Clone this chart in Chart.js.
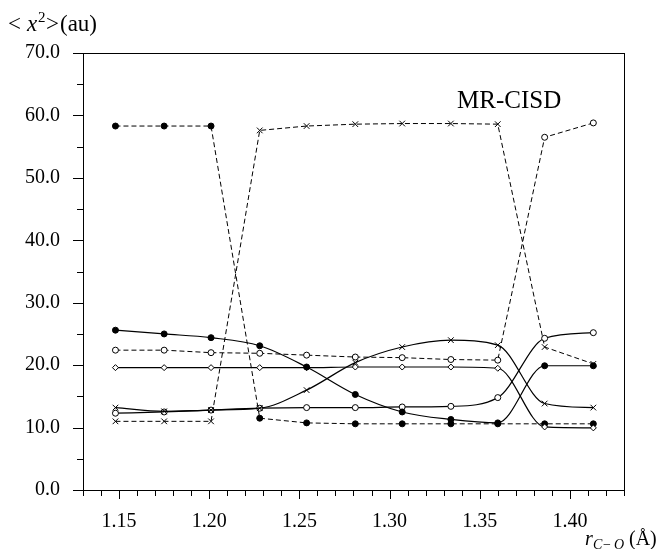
<!DOCTYPE html>
<html>
<head>
<meta charset="utf-8">
<script src="https://cdn.jsdelivr.net/npm/chart.js@4/dist/chart.umd.min.js"></script>
<style>
    html, body { margin: 0; padding: 0; background: #fff; }
</style>
</head>
<body>
<canvas id="graficoX2" width="660" height="549"></canvas>
<script>
// distancias C-O (Å)
const rCO = [1.148, 1.175, 1.201, 1.228, 1.254, 1.281, 1.307, 1.334, 1.360, 1.386, 1.413];

// <x^2> (au) de cada estado
const solidoLleno   = [25.6, 25.0, 24.4, 23.1, 19.7, 15.3, 12.5, 11.3, 10.75, 19.9, 19.9];
const solidoCruz    = [13.2, 12.6, 12.8, 13.1, 16.0, 20.4, 22.9, 24.0, 23.2, 13.85, 13.2];
const solidoAbierto = [12.3, 12.5, 12.8, 13.1, 13.2, 13.2, 13.3, 13.4, 14.8, 24.3, 25.2];
const solidoRombo   = [19.6, 19.6, 19.6, 19.6, 19.6, 19.7, 19.7, 19.7, 19.5, 10.1, 9.95];
const discAbierto   = [22.4, 22.4, 22.0, 21.9, 21.6, 21.3, 21.2, 20.9, 20.8, 56.5, 58.8];
const discCruz      = [11.0, 11.0, 11.0, 57.6, 58.3, 58.6, 58.7, 58.7, 58.6, 22.9, 20.2];
const discLleno     = [58.3, 58.3, 58.3, 11.5, 10.75, 10.6, 10.6, 10.6, 10.6, 10.6, 10.6];

const yTicks = [0, 10, 20, 30, 40, 50, 60, 70];
const xTicks = [1.15, 1.20, 1.25, 1.30, 1.35, 1.40];

const puntos = arr => arr.map((v, i) => ({ x: rCO[i], y: v }));

function serie(arr, estilo, relleno, discontinua) {
    return {
        data: puntos(arr),
        borderColor: '#000',
        borderWidth: discontinua ? 1 : 1.2,
        borderDash: discontinua ? [5, 3] : [],
        cubicInterpolationMode: discontinua ? 'default' : 'monotone',
        tension: 0,
        pointStyle: estilo,
        pointRadius: estilo === 'crossRot' ? 4 : 3,
        pointBorderWidth: 1,
        pointBorderColor: '#000',
        pointBackgroundColor: relleno ? '#000' : '#fff',
        fill: false
    };
}

// marco y marcas de los ejes (mayores y menores)
const marco = {
    id: 'marco',
    afterDraw(chart) {
        const { ctx, chartArea: a, scales } = chart;
        ctx.save();
        ctx.strokeStyle = '#000';
        ctx.lineWidth = 1;
        ctx.strokeRect(a.left + 0.5, a.top + 0.5, a.right - a.left, a.bottom - a.top);
        ctx.beginPath();
        scales.x.ticks.forEach(t => {
            const px = Math.round(scales.x.getPixelForValue(t.value)) + 0.5;
            const largo = t.label !== '' ? 9 : 6;
            ctx.moveTo(px, a.bottom);
            ctx.lineTo(px, a.bottom + largo);
        });
        scales.y.ticks.forEach(t => {
            const py = Math.round(scales.y.getPixelForValue(t.value)) + 0.5;
            const largo = t.label !== '' ? 10 : 6;
            ctx.moveTo(a.left, py);
            ctx.lineTo(a.left - largo, py);
        });
        ctx.stroke();
        ctx.restore();
    }
};

// textos: titulos de ejes y etiqueta del metodo
const textos = {
    id: 'textos',
    afterDraw(chart) {
        const ctx = chart.ctx;
        ctx.save();
        ctx.fillStyle = '#000';
        ctx.textBaseline = 'alphabetic';
        const serif = '"Liberation Serif", "DejaVu Serif", serif';

        // <x^2>(au)
        ctx.font = '23px ' + serif;
        ctx.fillText('<', 8, 31);
        ctx.font = 'italic 23px ' + serif;
        ctx.fillText('x', 27, 31);
        ctx.font = '15px ' + serif;
        ctx.fillText('2', 38, 22);
        ctx.font = '23px ' + serif;
        ctx.fillText('>', 46, 31);
        ctx.fillText('(au)', 60, 31);

        // MR-CISD
        ctx.font = '25px ' + serif;
        ctx.fillText('MR-CISD', 457, 108);

        // r_{C-O}(Å)
        ctx.font = 'italic 20px ' + serif;
        ctx.fillText('r', 585, 545);
        ctx.font = 'italic 14px ' + serif;
        ctx.fillText('C', 593, 549);
        ctx.font = '14px ' + serif;
        ctx.fillText('\u2212', 603, 549);
        ctx.font = 'italic 14px ' + serif;
        ctx.fillText('O', 614, 549);
        ctx.font = '20px ' + serif;
        ctx.fillText('(\u00C5)', 629, 545);
        ctx.restore();
    }
};

const fuenteTicks = { family: '"Liberation Serif", "DejaVu Serif", serif', size: 20 };

new Chart(document.getElementById('graficoX2').getContext('2d'), {
    type: 'line',
    data: {
        datasets: [
            serie(solidoLleno, 'circle', true, false),
            serie(solidoCruz, 'crossRot', false, false),
            serie(solidoAbierto, 'circle', false, false),
            serie(solidoRombo, 'rectRot', false, false),
            serie(discAbierto, 'circle', false, true),
            serie(discCruz, 'crossRot', false, true),
            serie(discLleno, 'circle', true, true)
        ]
    },
    options: {
        responsive: false,
        animation: false,
        devicePixelRatio: 1,
        layout: { padding: { top: 53, right: 36, left: 0, bottom: 0 } },
        plugins: { legend: { display: false }, tooltip: { enabled: false } },
        scales: {
            x: {
                type: 'linear',
                min: 1.13,
                max: 1.43,
                afterFit: s => { s.height = 59; },
                grid: { display: false },
                border: { display: false },
                ticks: {
                    stepSize: 0.01,
                    autoSkip: false,
                    maxRotation: 0,
                    padding: 12,
                    color: '#000',
                    font: fuenteTicks,
                    callback: v => {
                        const m = xTicks.find(t => Math.abs(t - v) < 1e-6);
                        return m !== undefined ? m.toFixed(2) : '';
                    }
                }
            },
            y: {
                min: 0,
                max: 70,
                afterFit: s => { s.width = 83; },
                grid: { display: false },
                border: { display: false },
                ticks: {
                    stepSize: 5,
                    autoSkip: false,
                    padding: 15,
                    color: '#000',
                    font: fuenteTicks,
                    callback: v => yTicks.includes(v) ? v.toFixed(1) : ''
                }
            }
        }
    },
    plugins: [marco, textos]
});
</script>
</body>
</html>
